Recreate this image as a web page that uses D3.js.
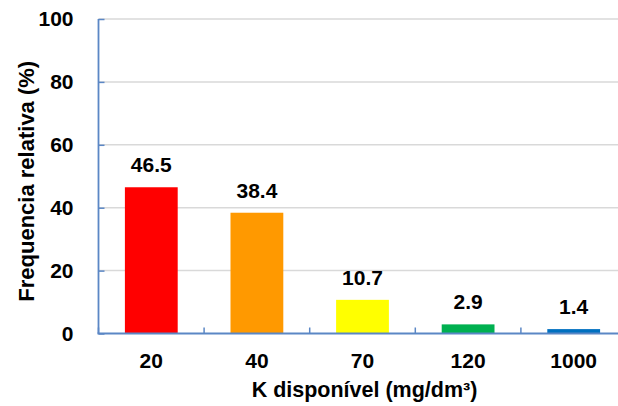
<!DOCTYPE html>
<html>
<head>
<meta charset="utf-8">
<script src="https://cdn.jsdelivr.net/npm/d3@7"></script>
<style>
  html, body { margin: 0; padding: 0; background: #fff; }
  svg { display: block; overflow: hidden; }
  text { font-family: "Liberation Sans", Arial, sans-serif; font-weight: bold; fill: #000; }
</style>
</head>
<body>
<div id="chart"></div>
<script>
// K disponível classes and relative frequency (%)
const categories = ["20", "40", "70", "120", "1000"];
const frequencies = [46.5, 38.4, 10.7, 2.9, 1.4];
const barColors = ["#FF0000", "#FF9900", "#FFFF00", "#00B050", "#0070C0"];
const yTicks = [0, 20, 40, 60, 80, 100];
const yTitle = "Frequencia relativa (%)";
const xTitle = "K disponível (mg/dm³)";

const width = 618, height = 406;
const plot = { left: 98.5, right: 626.5, top: 19, bottom: 333.5 };
const axisColor = "#5B87C5";
const gridColor = "#D9D9D9";
const tickFont = 21;

const svg = d3.select("#chart").append("svg")
  .attr("width", width)
  .attr("height", height);

const x = d3.scaleBand()
  .domain(categories)
  .range([plot.left, plot.right])
  .paddingInner(0.5)
  .paddingOuter(0.25);

const y = d3.scaleLinear()
  .domain([0, 100])
  .range([plot.bottom, plot.top]);

// horizontal gridlines
svg.append("g")
  .selectAll("line")
  .data(yTicks.filter(d => d > 0))
  .join("line")
  .attr("x1", plot.left)
  .attr("x2", plot.right)
  .attr("y1", d => y(d))
  .attr("y2", d => y(d))
  .attr("stroke", gridColor)
  .attr("stroke-width", 1.5);

// bars
svg.append("g")
  .selectAll("rect")
  .data(frequencies)
  .join("rect")
  .attr("x", (d, i) => x(categories[i]))
  .attr("width", x.bandwidth())
  .attr("y", d => y(d))
  .attr("height", d => y(0) - y(d))
  .attr("fill", (d, i) => barColors[i]);

// value labels
svg.append("g")
  .selectAll("text")
  .data(frequencies)
  .join("text")
  .attr("x", (d, i) => x(categories[i]) + x.bandwidth() / 2)
  .attr("y", d => y(d) - 15)
  .attr("text-anchor", "middle")
  .attr("font-size", tickFont)
  .text(d => d.toFixed(1));

// y axis: ticks point into the plot
const yAxis = d3.axisLeft(y).tickValues(yTicks).tickSize(-6).tickPadding(25);
const gy = svg.append("g")
  .attr("transform", `translate(${plot.left},0)`)
  .call(yAxis);
gy.select(".domain").attr("stroke", axisColor).attr("stroke-width", 1.8)
  .attr("d", `M0,${plot.top}V${plot.bottom}`);
gy.selectAll(".tick line").attr("stroke", axisColor).attr("stroke-width", 1.5);
gy.selectAll(".tick text")
  .attr("font-size", tickFont)
  .attr("font-family", null)
  .attr("fill", "#000");

// x axis: ticks on band boundaries
const gx = svg.append("g")
  .attr("transform", `translate(0,${plot.bottom})`);
const boundaries = categories.map(c => x(c) - x.step() * x.paddingInner() / 2).concat([plot.right]);
gx.append("line")
  .attr("x1", plot.left - 1)
  .attr("x2", plot.right)
  .attr("stroke", axisColor)
  .attr("stroke-width", 2);
gx.selectAll("line.tick")
  .data(boundaries)
  .join("line")
  .attr("class", "tick")
  .attr("x1", d => d).attr("x2", d => d)
  .attr("y1", 0).attr("y2", -6)
  .attr("stroke", axisColor)
  .attr("stroke-width", 1.5);
gx.selectAll("text.cat")
  .data(categories)
  .join("text")
  .attr("class", "cat")
  .attr("x", d => x(d) + x.bandwidth() / 2)
  .attr("y", 34)
  .attr("text-anchor", "middle")
  .attr("font-size", tickFont)
  .text(d => d);

// axis titles
svg.append("text")
  .attr("transform", `translate(34,${(plot.top + plot.bottom) / 2 + 5}) rotate(-90)`)
  .attr("text-anchor", "middle")
  .attr("font-size", 22)
  .text(yTitle);

svg.append("text")
  .attr("x", (plot.left + plot.right) / 2 + 2)
  .attr("y", 397)
  .attr("text-anchor", "middle")
  .attr("font-size", 21.5)
  .text(xTitle);
</script>
</body>
</html>
